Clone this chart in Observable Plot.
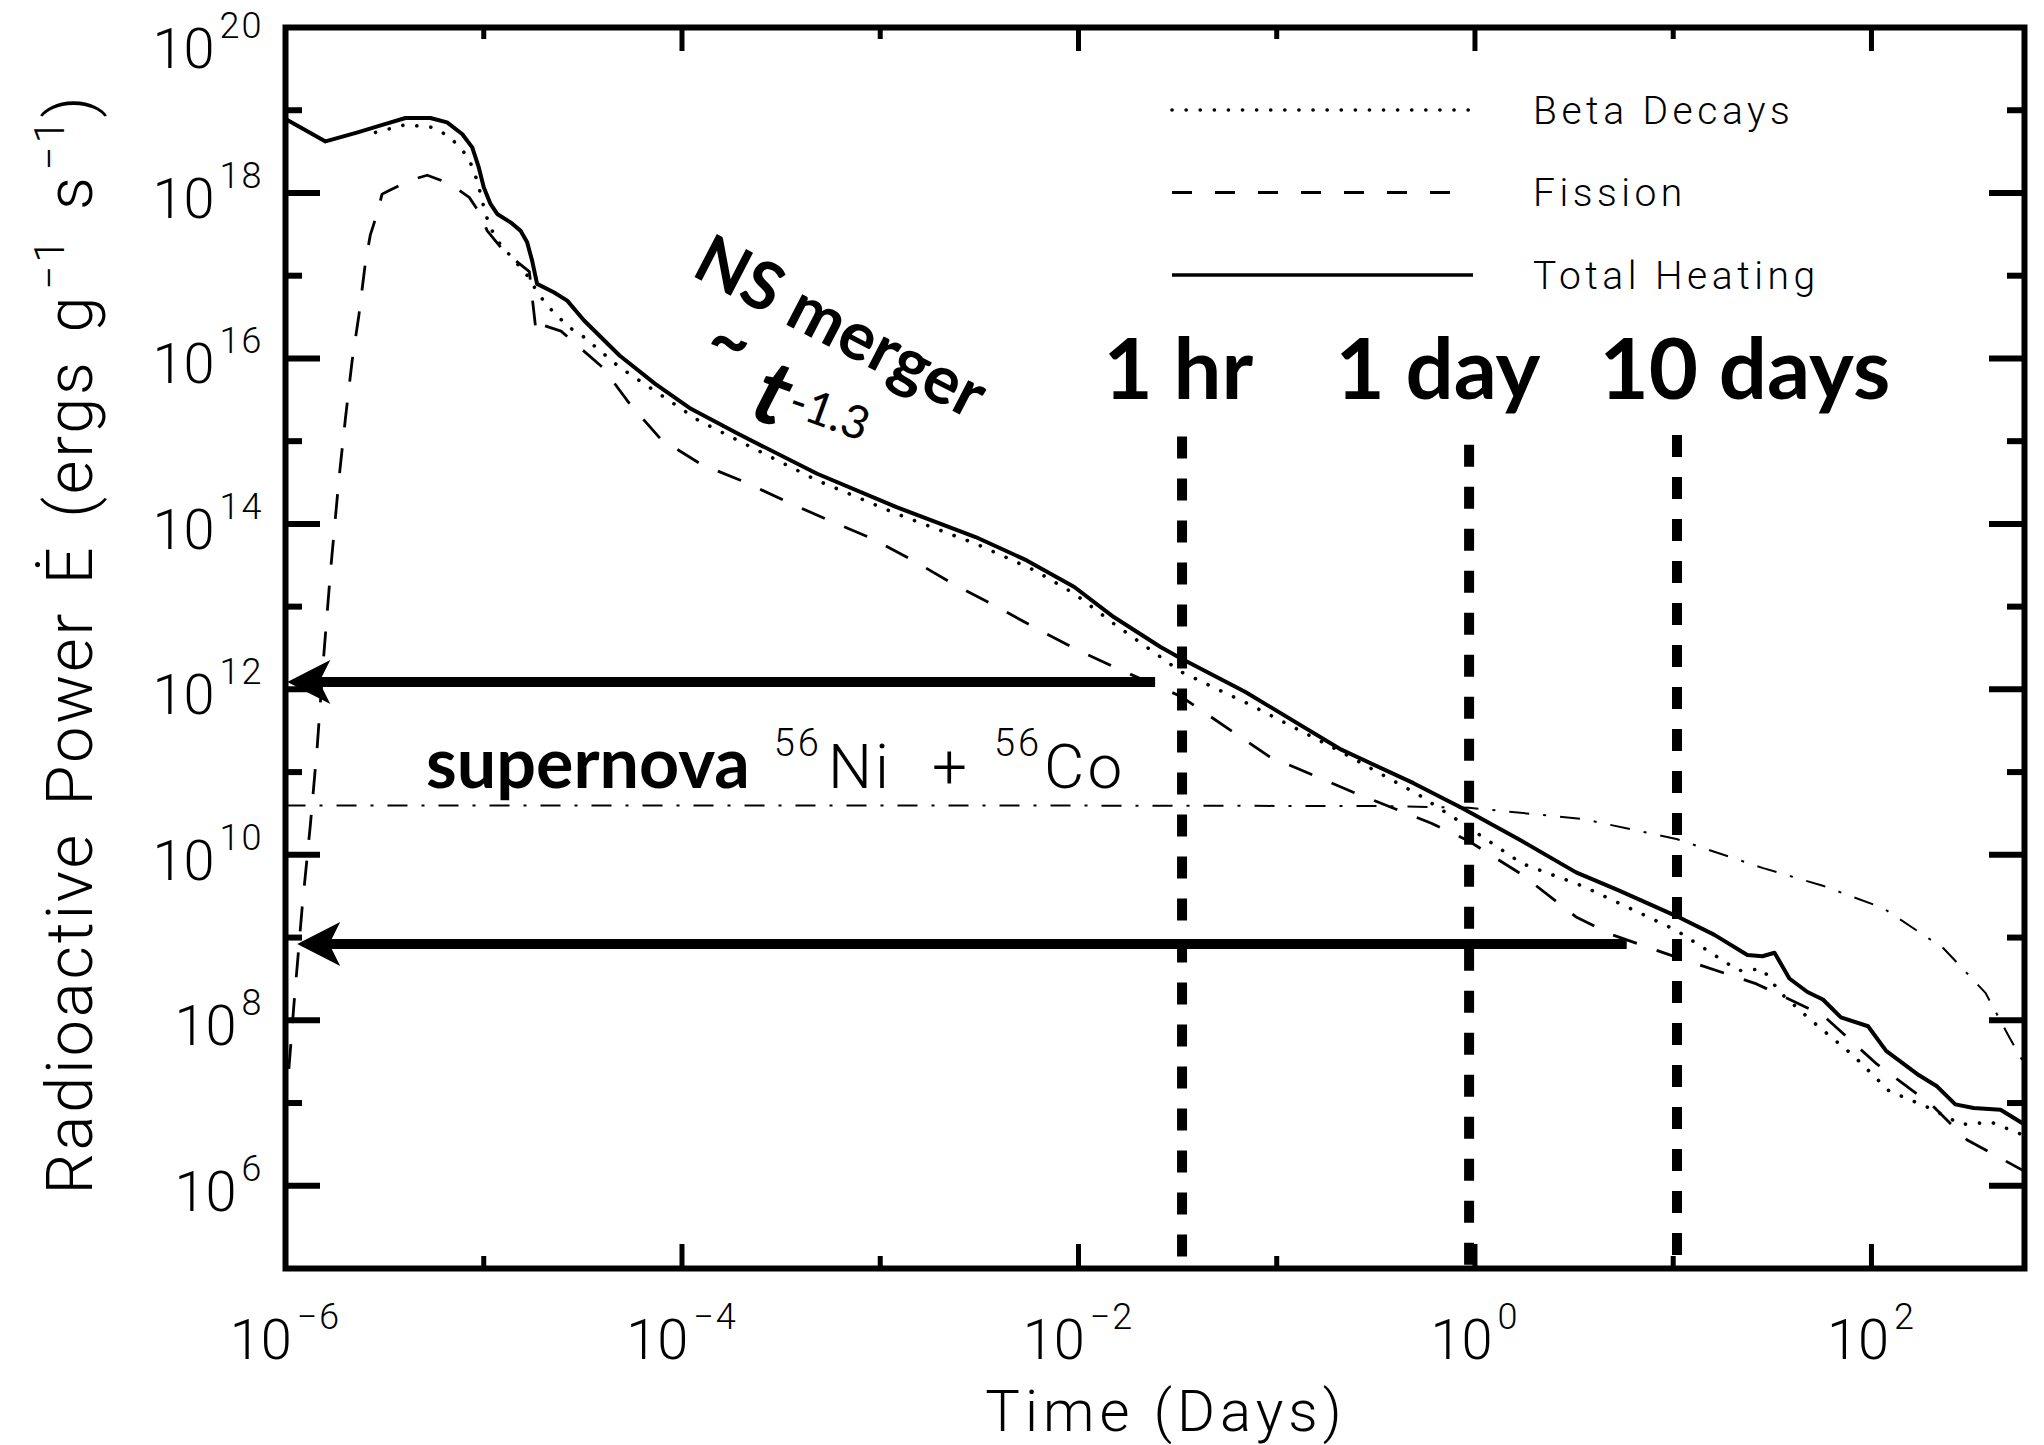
<!DOCTYPE html>
<html>
<head>
<meta charset="utf-8">
<script src="https://cdn.jsdelivr.net/npm/d3@7"></script>
<script src="https://cdn.jsdelivr.net/npm/@observablehq/plot@0.6"></script>
<style>
  html, body { margin: 0; padding: 0; background: #fff; overflow: hidden; }
  #wrap { position: relative; width: 2044px; height: 1445px; }
  #wrap > svg { display: block; }
  #legend { position: absolute; left: 0; top: 0; pointer-events: none; }
</style>
</head>
<body>
<div id="wrap"></div>
<script>
// ---------------- data (log10 of time in days, log10 of power in erg/g/s) ----------------
const totalLogT = [-6.000,-5.798,-5.636,-5.524,-5.395,-5.269,-5.185,-5.109,-5.058,-5.025,-5.000,-4.966,-4.932,-4.865,-4.815,-4.781,-4.756,-4.731,-4.647,-4.579,-4.494,-4.315,-4.135,-3.955,-3.717,-3.318,-2.918,-2.519,-2.261,-2.021,-1.822,-1.586,-1.485,-1.160,-0.674,-0.310,-0.068,0.237,0.510,0.722,1.016,1.208,1.374,1.450,1.511,1.586,1.677,1.755,1.846,1.983,2.074,2.240,2.332,2.423,2.515,2.651,2.772];
const totalLogE = [18.894,18.623,18.732,18.813,18.906,18.906,18.853,18.713,18.551,18.309,18.068,17.867,17.746,17.645,17.545,17.403,17.182,16.901,16.800,16.699,16.458,16.035,15.693,15.391,15.089,14.606,14.203,13.841,13.559,13.237,12.874,12.512,12.376,11.971,11.271,10.866,10.569,10.166,9.788,9.574,9.260,9.033,8.790,8.774,8.816,8.505,8.342,8.251,8.035,7.928,7.631,7.335,7.199,6.984,6.941,6.919,6.741];

const betaLogT = [-5.546,-5.395,-5.253,-5.168,-5.077,-5.033,-4.991,-4.966,-4.932,-4.874,-4.823,-4.773,-4.730,-4.680,-4.621,-4.571,-4.514,-4.315,-4.115,-3.916,-3.717,-3.318,-2.918,-2.519,-2.221,-2.021,-1.822,-1.586,-1.485,-1.130,-0.674,-0.280,-0.031,0.237,0.540,1.016,1.329,1.450,1.541,1.692,1.907,2.089,2.301,2.454,2.605,2.772];
const betaLogE = [18.732,18.825,18.792,18.671,18.430,18.149,17.746,17.585,17.424,17.263,17.122,16.981,16.800,16.639,16.498,16.377,16.297,15.894,15.572,15.250,15.008,14.525,14.123,13.761,13.438,13.157,12.795,12.391,12.214,11.809,11.243,10.720,10.330,9.895,9.626,9.087,8.601,8.620,8.332,8.008,7.577,7.146,6.930,6.741,6.768,6.606];

const fissionLogT = [-5.983,-5.958,-5.916,-5.874,-5.840,-5.807,-5.773,-5.731,-5.697,-5.664,-5.630,-5.597,-5.572,-5.538,-5.513,-5.487,-5.370,-5.285,-5.175,-5.073,-5.017,-4.983,-4.900,-4.770,-4.735,-4.700,-4.610,-4.510,-4.400,-4.261,-4.105,-3.902,-3.683,-3.467,-3.258,-3.039,-2.835,-2.629,-2.426,-2.211,-2.002,-1.792,-1.485,-1.039,-0.614,-0.220,-0.031,0.237,0.510,0.692,1.016,1.420,1.755,2.028,2.301,2.483,2.772];
const fissionLogE = [7.412,8.175,9.361,10.378,11.309,12.412,13.426,14.529,15.291,15.969,16.519,17.156,17.494,17.749,17.986,18.019,18.155,18.214,18.116,17.947,17.746,17.545,17.300,17.050,16.300,16.400,16.330,16.120,15.890,15.443,15.020,14.719,14.505,14.263,14.042,13.821,13.559,13.269,13.016,12.734,12.472,12.239,11.917,11.190,10.757,10.381,10.166,9.761,9.249,9.033,8.763,8.440,8.062,7.469,6.984,6.553,6.175];

const snLogT = [-6.000,-4.000,-2.000,-0.500,-0.031,0.540,1.016,1.450,1.755,2.059,2.363,2.575,2.696,2.772];
const snLogE = [10.595,10.595,10.595,10.590,10.569,10.435,10.192,9.842,9.626,9.356,8.871,8.332,7.792,7.469];

// tick values
const xMajorTicks = [1e-6, 1e-4, 1e-2, 1, 1e2];
const xMinorTicks = [1e-5, 1e-3, 1e-1, 1e1];
const yMajorTicks = [1e6, 1e8, 1e10, 1e12, 1e14, 1e16, 1e18, 1e20];
const yMinorTicks = [1e7, 1e9, 1e11, 1e13, 1e15, 1e17, 1e19];

// annotations (data coordinates)
const timeMarkLabels = ["1 hr", "1 day", "10 days"];
const timeMarkT = [0.0333, 0.934, 10.45];
const timeMarkTopE = [10 ** 15.05, 10 ** 14.95, 10 ** 15.07];
const timeLabelT = [0.01337, 0.1978, 4.25];
const timeLabelE = 10 ** 15.512;

const arrowE = [10 ** 12.089, 10 ** 8.923];
const arrowTipT = [10 ** -5.991, 10 ** -5.941];
const arrowTailT = [10 ** -1.611, 10 ** 0.768];

const legendLabels = ["Beta Decays", "Fission", "Total Heating"];

// ---------------- layout ----------------
const W = 2044, H = 1445;
const margin = {left: 285, right: 20, top: 27, bottom: 177};
const xDomain = [1e-6, 10 ** 2.772];
const yDomain = [1e5, 1e20];
const pxX = (W - margin.left - margin.right) / Math.log10(xDomain[1] / xDomain[0]);
const pxY = (H - margin.top - margin.bottom) / Math.log10(yDomain[1] / yDomain[0]);
const shiftX = (v, px) => v * 10 ** (px / pxX);
const shiftY = (v, px) => v * 10 ** (px / pxY);

const toSeries = (lt, le) => lt.map((v, i) => ({t: 10 ** v, E: 10 ** le[i]}));
const total = toSeries(totalLogT, totalLogE);
const beta = toSeries(betaLogT, betaLogE);
const fission = toSeries(fissionLogT, fissionLogE);
const supernova = toSeries(snLogT, snLogE);

const markers = timeMarkLabels.map((label, i) => ({label, t: timeMarkT[i], top: timeMarkTopE[i], labelT: timeLabelT[i]}));
const arrows = arrowE.map((E, i) => ({E, tip: arrowTipT[i], tail: arrowTailT[i]}));

const inside = (arr, dom) => arr.filter(v => v > dom[0] && v < dom[1]);
const yMaj = inside(yMajorTicks, yDomain), yMin = inside(yMinorTicks, yDomain);
const xMaj = inside(xMajorTicks, xDomain), xMin = inside(xMinorTicks, xDomain);

const powFormat = d => "10^" + Math.round(Math.log10(d));

const arrowHead = {
  draw(ctx, size) {
    const s = Math.sqrt(size / Math.PI);
    ctx.moveTo(0, 0);
    ctx.lineTo(4.3 * s, -2.2 * s);
    ctx.lineTo(3.2 * s, 0);
    ctx.lineTo(4.3 * s, 2.2 * s);
    ctx.closePath();
  }
};

const yLabel = "Radioactive Power Ė (ergs g^{-1} s^{-1})";
const snLabel = "supernova ^{56}Ni + ^{56}Co";
const slopeLabel = "~ t^{-1.3}";
const nsLabel = "NS merger";

const chart = Plot.plot({
  width: W, height: H,
  marginLeft: margin.left, marginRight: margin.right, marginTop: margin.top, marginBottom: margin.bottom,
  x: {type: "log", domain: xDomain},
  y: {type: "log", domain: yDomain},
  style: {fontFamily: "Roboto, 'Liberation Sans', sans-serif", fontWeight: 300, background: "white", color: "black"},
  marks: [
    // curves
    Plot.line(supernova, {x: "t", y: "E", stroke: "black", strokeWidth: 2, strokeDasharray: "20,14,3,14", strokeLinecap: "butt", clip: true}),
    Plot.line(fission, {x: "t", y: "E", stroke: "black", strokeWidth: 2.8, strokeDasharray: "25,21", strokeLinecap: "butt", clip: true}),
    Plot.line(beta, {x: "t", y: "E", stroke: "black", strokeWidth: 3.6, strokeDasharray: "0.1,14", strokeLinecap: "round", clip: true}),
    Plot.line(total, {x: "t", y: "E", stroke: "black", strokeWidth: 4, clip: true}),
    // vertical time markers
    Plot.ruleX(markers, {x: "t", y1: "top", y2: () => yDomain[0], stroke: "black", strokeWidth: 10, strokeDasharray: "22,20", strokeLinecap: "butt"}),
    // arrows
    Plot.ruleY(arrows, {y: "E", x1: d => shiftX(d.tip, 26), x2: "tail", stroke: "black", strokeWidth: 10, strokeLinecap: "butt"}),
    Plot.dot(arrows, {x: "tip", y: "E", r: 10, symbol: arrowHead, fill: "black", stroke: "none"}),
    // inward ticks on all four sides
    Plot.ruleY(yMaj, {y: d => d, x1: () => xDomain[0], x2: () => shiftX(xDomain[0], 35), strokeWidth: 6, strokeLinecap: "butt"}),
    Plot.ruleY(yMaj, {y: d => d, x1: () => shiftX(xDomain[1], -35), x2: () => xDomain[1], strokeWidth: 6, strokeLinecap: "butt"}),
    Plot.ruleY(yMin, {y: d => d, x1: () => xDomain[0], x2: () => shiftX(xDomain[0], 17), strokeWidth: 6, strokeLinecap: "butt"}),
    Plot.ruleY(yMin, {y: d => d, x1: () => shiftX(xDomain[1], -17), x2: () => xDomain[1], strokeWidth: 6, strokeLinecap: "butt"}),
    Plot.ruleX(xMaj, {x: d => d, y1: () => yDomain[0], y2: () => shiftY(yDomain[0], 24), strokeWidth: 5, strokeLinecap: "butt"}),
    Plot.ruleX(xMaj, {x: d => d, y1: () => shiftY(yDomain[1], -24), y2: () => yDomain[1], strokeWidth: 5, strokeLinecap: "butt"}),
    Plot.ruleX(xMin, {x: d => d, y1: () => yDomain[0], y2: () => shiftY(yDomain[0], 12), strokeWidth: 5, strokeLinecap: "butt"}),
    Plot.ruleX(xMin, {x: d => d, y1: () => shiftY(yDomain[1], -12), y2: () => yDomain[1], strokeWidth: 5, strokeLinecap: "butt"}),
    Plot.frame({stroke: "black", strokeWidth: 6}),
    // axes (labels only)
    Plot.axisY(yMajorTicks, {anchor: "left", tickSize: 0, tickPadding: 22, fontSize: 56, tickFormat: powFormat, label: null, dy: 7}),
    Plot.axisX(xMajorTicks, {anchor: "bottom", tickSize: 0, tickPadding: 51, fontSize: 56, tickFormat: powFormat, label: null}),
    Plot.text(["Time (Days)"], {frameAnchor: "bottom", textAnchor: "middle", lineAnchor: "bottom", dy: 162, dx: 11, fontSize: 58}),
    Plot.text([yLabel], {frameAnchor: "left", textAnchor: "middle", lineAnchor: "middle", rotate: -90, dx: -214, dy: -4, fontSize: 65}),
    // annotations
    Plot.text(markers, {x: "labelT", y: () => timeLabelE, text: "label", textAnchor: "start", lineAnchor: "bottom", fontFamily: "Lato", fontWeight: "bold", fontSize: 85}),
    Plot.text([nsLabel], {x: () => 5.61e-4, y: () => 1.36e16, text: d => d, rotate: 27.4, lineAnchor: "bottom", fontFamily: "Lato", fontWeight: "bold", fontSize: 67}),
    Plot.text([slopeLabel], {x: () => 3.57e-4, y: () => 1.26e15, text: d => d, rotate: 20, lineAnchor: "bottom", fontFamily: "Lato", fontWeight: "bold", fontSize: 64}),
    Plot.text([snLabel], {x: () => 5.12e-6, y: () => 6.34e10, text: d => d, textAnchor: "start", lineAnchor: "bottom", fontSize: 62})
  ]
});

document.getElementById("wrap").appendChild(chart);

// ---------------- rich text (superscripts / mixed fonts) ----------------
const NS = "http://www.w3.org/2000/svg";
function rich(el, segs, attrs = {}, baseShift = 0) {
  el.textContent = "";
  for (const [k, v] of Object.entries(attrs)) el.setAttribute(k, v);
  let prev = 0;
  segs.forEach((s) => {
    const ts = document.createElementNS(NS, "tspan");
    const target = baseShift - (s.raise || 0);
    const dy = target - prev; prev = target;
    if (dy) ts.setAttribute("dy", dy);
    if (s.dx) ts.setAttribute("dx", s.dx);
    if (s.size) ts.setAttribute("font-size", s.size);
    if (s.weight) ts.setAttribute("font-weight", s.weight);
    if (s.style) ts.setAttribute("font-style", s.style);
    if (s.family) ts.setAttribute("font-family", s.family);
    if (s.ls != null) ts.setAttribute("letter-spacing", s.ls);
    ts.textContent = s.t;
    el.appendChild(ts);
  });
}
const specs = new Map([
  [yLabel, {attrs: {"letter-spacing": 2.8, "word-spacing": 8}, segs: [
    {t: "Radioactive Power Ė (ergs g"}, {t: "−1", raise: 28, size: 42, dx: 4}, {t: " s"},
    {t: "−1", raise: 28, size: 42, dx: 4}, {t: ")"}]}],
  [snLabel, {attrs: {"letter-spacing": 3}, segs: [
    {t: "supernova", family: "Lato", weight: "bold", size: 70, ls: 0},
    {t: "56", raise: 32, size: 38, dx: 24}, {t: "Ni", dx: 6}, {t: "+", dx: 40},
    {t: "56", raise: 32, size: 38, dx: 24}, {t: "Co", dx: 2}]}],
  [slopeLabel, {attrs: {}, segs: [
    {t: "~", size: 70, raise: 42, dx: -20}, {t: "t", size: 90, style: "italic", dx: 22},
    {t: "-1.3", size: 46, weight: "normal", raise: 16, dx: 2}]}],
  ["Time (Days)", {attrs: {"letter-spacing": 5}, segs: [{t: "Time (Days)"}]}]
]);
chart.querySelectorAll("text").forEach(el => {
  const raw = el.textContent;
  if (specs.has(raw)) { const s = specs.get(raw); rich(el, s.segs, s.attrs); return; }
  const m = raw.match(/^10\^(-?\d+)$/);
  if (m) {
    const exp = m[1].replace("-", "−");
    rich(el, [{t: "10"}, {t: exp, raise: 30, size: 36, dx: 5, ls: 2}], {}, m[1] === "20" ? 16 : 0);
  }
});

// ---------------- legend (inside the frame, top right) ----------------
const legendStyles = [
  {dash: "0.1,14", width: 3.6, cap: "round"},
  {dash: "20,23", width: 2.8, cap: "butt"},
  {dash: null, width: 3.5, cap: "butt"}
];
const legendRows = [110, 192.5, 275];
const leg = d3.create("svg").attr("id", "legend").attr("width", W).attr("height", H);
legendLabels.forEach((label, i) => {
  leg.append("line").attr("x1", 1172).attr("x2", 1473).attr("y1", legendRows[i]).attr("y2", legendRows[i])
    .attr("stroke", "black").attr("stroke-width", legendStyles[i].width)
    .attr("stroke-linecap", legendStyles[i].cap)
    .attr("stroke-dasharray", legendStyles[i].dash);
  leg.append("text").attr("x", 1533).attr("y", legendRows[i] + 13.5)
    .attr("font-family", "Roboto, 'Liberation Sans', sans-serif").attr("font-weight", 300)
    .attr("font-size", 39).attr("letter-spacing", 4.5).attr("fill", "black").text(label);
});
document.getElementById("wrap").appendChild(leg.node());
</script>
</body>
</html>
